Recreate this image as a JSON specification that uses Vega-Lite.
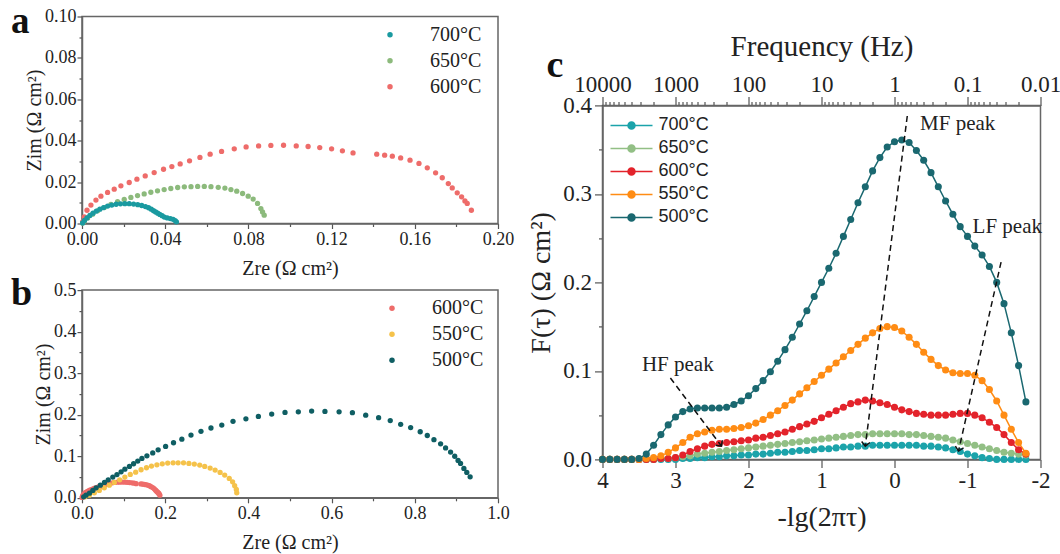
{
"$schema": "https://vega.github.io/schema/vega-lite/v6.json",
"background": "white",
"padding": {"left": 10, "top": 1.5, "right": 0, "bottom": 0},
"config": {
  "font": "Liberation Serif",
  "view": {"stroke": "#666", "strokeWidth": 1.5},
  "axis": {"grid": false, "domainColor": "#666", "domainWidth": 1.5, "tickColor": "#555", "tickWidth": 1.2, "labelColor": "#222", "titleColor": "#222", "labelFont": "Liberation Serif", "titleFont": "Liberation Serif", "titleFontWeight": "normal", "labelOverlap": false, "labelFlush": false, "labelBound": false},
  "legend": {"labelFont": "Liberation Serif", "labelColor": "#222"}
},
"datasets": {
  "nyq": [
    {"s":"650°C","zre":0.0876,"zim":0.0040},{"s":"650°C","zre":0.0868,"zim":0.0056},{"s":"650°C","zre":0.0860,"zim":0.0072},{"s":"650°C","zre":0.0844,"zim":0.0097},{"s":"650°C","zre":0.0823,"zim":0.0118},{"s":"650°C","zre":0.0799,"zim":0.0132},{"s":"650°C","zre":0.0772,"zim":0.0145},{"s":"650°C","zre":0.0744,"zim":0.0156},{"s":"650°C","zre":0.0716,"zim":0.0164},{"s":"650°C","zre":0.0687,"zim":0.0171},{"s":"650°C","zre":0.0655,"zim":0.0175},{"s":"650°C","zre":0.0620,"zim":0.0178},{"s":"650°C","zre":0.0588,"zim":0.0179},{"s":"650°C","zre":0.0556,"zim":0.0179},{"s":"650°C","zre":0.0524,"zim":0.0178},{"s":"650°C","zre":0.0492,"zim":0.0177},{"s":"650°C","zre":0.0460,"zim":0.0174},{"s":"650°C","zre":0.0427,"zim":0.0169},{"s":"650°C","zre":0.0395,"zim":0.0164},{"s":"650°C","zre":0.0363,"zim":0.0158},{"s":"650°C","zre":0.0331,"zim":0.0151},{"s":"650°C","zre":0.0299,"zim":0.0143},{"s":"650°C","zre":0.0267,"zim":0.0135},{"s":"650°C","zre":0.0235,"zim":0.0126},{"s":"650°C","zre":0.0203,"zim":0.0116},{"s":"650°C","zre":0.0171,"zim":0.0105},{"s":"650°C","zre":0.0139,"zim":0.0092},{"s":"650°C","zre":0.0107,"zim":0.0077},{"s":"650°C","zre":0.0075,"zim":0.0061},{"s":"650°C","zre":0.0051,"zim":0.0045},{"s":"650°C","zre":0.0027,"zim":0.0027},{"s":"650°C","zre":0.0011,"zim":0.0011},{"s":"650°C","zre":0.0003,"zim":0.0002},
    {"s":"600°C","zre":0.1872,"zim":0.0064},{"s":"600°C","zre":0.1852,"zim":0.0097},{"s":"600°C","zre":0.1841,"zim":0.0109},{"s":"600°C","zre":0.1825,"zim":0.0129},{"s":"600°C","zre":0.1804,"zim":0.0148},{"s":"600°C","zre":0.1780,"zim":0.0172},{"s":"600°C","zre":0.1761,"zim":0.0193},{"s":"600°C","zre":0.1732,"zim":0.0221},{"s":"600°C","zre":0.1700,"zim":0.0245},{"s":"600°C","zre":0.1660,"zim":0.0269},{"s":"600°C","zre":0.1620,"zim":0.0290},{"s":"600°C","zre":0.1577,"zim":0.0306},{"s":"600°C","zre":0.1532,"zim":0.0317},{"s":"600°C","zre":0.1492,"zim":0.0325},{"s":"600°C","zre":0.1455,"zim":0.0330},{"s":"600°C","zre":0.1417,"zim":0.0335},{"s":"600°C","zre":0.1303,"zim":0.0341},{"s":"600°C","zre":0.1252,"zim":0.0351},{"s":"600°C","zre":0.1200,"zim":0.0361},{"s":"600°C","zre":0.1143,"zim":0.0367},{"s":"600°C","zre":0.1087,"zim":0.0372},{"s":"600°C","zre":0.1030,"zim":0.0375},{"s":"600°C","zre":0.0969,"zim":0.0378},{"s":"600°C","zre":0.0908,"zim":0.0377},{"s":"600°C","zre":0.0849,"zim":0.0375},{"s":"600°C","zre":0.0789,"zim":0.0370},{"s":"600°C","zre":0.0732,"zim":0.0361},{"s":"600°C","zre":0.0671,"zim":0.0348},{"s":"600°C","zre":0.0616,"zim":0.0335},{"s":"600°C","zre":0.0567,"zim":0.0319},{"s":"600°C","zre":0.0517,"zim":0.0303},{"s":"600°C","zre":0.0472,"zim":0.0288},{"s":"600°C","zre":0.0432,"zim":0.0275},{"s":"600°C","zre":0.0392,"zim":0.0262},{"s":"600°C","zre":0.0347,"zim":0.0246},{"s":"600°C","zre":0.0304,"zim":0.0230},{"s":"600°C","zre":0.0264,"zim":0.0214},{"s":"600°C","zre":0.0227,"zim":0.0198},{"s":"600°C","zre":0.0187,"zim":0.0182},{"s":"600°C","zre":0.0155,"zim":0.0166},{"s":"600°C","zre":0.0123,"zim":0.0150},{"s":"600°C","zre":0.0091,"zim":0.0132},{"s":"600°C","zre":0.0067,"zim":0.0113},{"s":"600°C","zre":0.0043,"zim":0.0089},{"s":"600°C","zre":0.0024,"zim":0.0064},{"s":"600°C","zre":0.0011,"zim":0.0032},{"s":"600°C","zre":0.0003,"zim":0.0008},
    {"s":"700°C","zre":0.0003,"zim":0.0003},{"s":"700°C","zre":0.0012,"zim":0.0015},{"s":"700°C","zre":0.0024,"zim":0.0027},{"s":"700°C","zre":0.0038,"zim":0.0039},{"s":"700°C","zre":0.0053,"zim":0.0050},{"s":"700°C","zre":0.0069,"zim":0.0060},{"s":"700°C","zre":0.0086,"zim":0.0069},{"s":"700°C","zre":0.0104,"zim":0.0077},{"s":"700°C","zre":0.0123,"zim":0.0084},{"s":"700°C","zre":0.0143,"zim":0.0089},{"s":"700°C","zre":0.0164,"zim":0.0093},{"s":"700°C","zre":0.0185,"zim":0.0095},{"s":"700°C","zre":0.0206,"zim":0.0096},{"s":"700°C","zre":0.0227,"zim":0.0096},{"s":"700°C","zre":0.0248,"zim":0.0094},{"s":"700°C","zre":0.0268,"zim":0.0091},{"s":"700°C","zre":0.0287,"zim":0.0087},{"s":"700°C","zre":0.0305,"zim":0.0082},{"s":"700°C","zre":0.0320,"zim":0.0076},{"s":"700°C","zre":0.0333,"zim":0.0069},{"s":"700°C","zre":0.0344,"zim":0.0062},{"s":"700°C","zre":0.0354,"zim":0.0056},{"s":"700°C","zre":0.0364,"zim":0.0050},{"s":"700°C","zre":0.0374,"zim":0.0044},{"s":"700°C","zre":0.0385,"zim":0.0038},{"s":"700°C","zre":0.0396,"zim":0.0031},{"s":"700°C","zre":0.0410,"zim":0.0027},{"s":"700°C","zre":0.0425,"zim":0.0024},{"s":"700°C","zre":0.0438,"zim":0.0020},{"s":"700°C","zre":0.0448,"zim":0.0014},{"s":"700°C","zre":0.0454,"zim":0.0008},
    {"s":"550°C","zre":0.0072,"zim":0.0024},{"s":"550°C","zre":0.0176,"zim":0.0064},{"s":"550°C","zre":0.0296,"zim":0.0120},{"s":"550°C","zre":0.0416,"zim":0.0177},{"s":"550°C","zre":0.0536,"zim":0.0240},{"s":"550°C","zre":0.0657,"zim":0.0305},{"s":"550°C","zre":0.0777,"zim":0.0370},{"s":"550°C","zre":0.0905,"zim":0.0434},{"s":"550°C","zre":0.1030,"zim":0.0498},{"s":"550°C","zre":0.1160,"zim":0.0562},{"s":"550°C","zre":0.1290,"zim":0.0618},{"s":"550°C","zre":0.1420,"zim":0.0675},{"s":"550°C","zre":0.1550,"zim":0.0723},{"s":"550°C","zre":0.1670,"zim":0.0763},{"s":"550°C","zre":0.1800,"zim":0.0795},{"s":"550°C","zre":0.1930,"zim":0.0819},{"s":"550°C","zre":0.2060,"zim":0.0835},{"s":"550°C","zre":0.2190,"zim":0.0843},{"s":"550°C","zre":0.2310,"zim":0.0843},{"s":"550°C","zre":0.2440,"zim":0.0843},{"s":"550°C","zre":0.2570,"zim":0.0827},{"s":"550°C","zre":0.2700,"zim":0.0811},{"s":"550°C","zre":0.2830,"zim":0.0787},{"s":"550°C","zre":0.2950,"zim":0.0755},{"s":"550°C","zre":0.3080,"zim":0.0715},{"s":"550°C","zre":0.3200,"zim":0.0667},{"s":"550°C","zre":0.3320,"zim":0.0610},{"s":"550°C","zre":0.3430,"zim":0.0546},{"s":"550°C","zre":0.3540,"zim":0.0466},{"s":"550°C","zre":0.3620,"zim":0.0385},{"s":"550°C","zre":0.3670,"zim":0.0290},{"s":"550°C","zre":0.3710,"zim":0.0200},{"s":"550°C","zre":0.3720,"zim":0.0120},
    {"s":"500°C","zre":0.0040,"zim":0.0024},{"s":"500°C","zre":0.0096,"zim":0.0064},{"s":"500°C","zre":0.0180,"zim":0.0112},{"s":"500°C","zre":0.0260,"zim":0.0177},{"s":"500°C","zre":0.0340,"zim":0.0240},{"s":"500°C","zre":0.0440,"zim":0.0305},{"s":"500°C","zre":0.0540,"zim":0.0370},{"s":"500°C","zre":0.0630,"zim":0.0434},{"s":"500°C","zre":0.0740,"zim":0.0498},{"s":"500°C","zre":0.0840,"zim":0.0560},{"s":"500°C","zre":0.0940,"zim":0.0626},{"s":"500°C","zre":0.1030,"zim":0.0690},{"s":"500°C","zre":0.1140,"zim":0.0755},{"s":"500°C","zre":0.1240,"zim":0.0820},{"s":"500°C","zre":0.1340,"zim":0.0883},{"s":"500°C","zre":0.1440,"zim":0.0948},{"s":"500°C","zre":0.1560,"zim":0.1010},{"s":"500°C","zre":0.1700,"zim":0.1080},{"s":"500°C","zre":0.1830,"zim":0.1156},{"s":"500°C","zre":0.2010,"zim":0.1237},{"s":"500°C","zre":0.2200,"zim":0.1325},{"s":"500°C","zre":0.2400,"zim":0.1410},{"s":"500°C","zre":0.2620,"zim":0.1510},{"s":"500°C","zre":0.2860,"zim":0.1600},{"s":"500°C","zre":0.3100,"zim":0.1680},{"s":"500°C","zre":0.3360,"zim":0.1750},{"s":"500°C","zre":0.3630,"zim":0.1840},{"s":"500°C","zre":0.3940,"zim":0.1900},{"s":"500°C","zre":0.4240,"zim":0.1960},{"s":"500°C","zre":0.4560,"zim":0.2016},{"s":"500°C","zre":0.4880,"zim":0.2056},{"s":"500°C","zre":0.5200,"zim":0.2070},{"s":"500°C","zre":0.5520,"zim":0.2088},{"s":"500°C","zre":0.5840,"zim":0.2080},{"s":"500°C","zre":0.6180,"zim":0.2070},{"s":"500°C","zre":0.6500,"zim":0.2048},{"s":"500°C","zre":0.6820,"zim":0.1990},{"s":"500°C","zre":0.7130,"zim":0.1930},{"s":"500°C","zre":0.7410,"zim":0.1860},{"s":"500°C","zre":0.7660,"zim":0.1770},{"s":"500°C","zre":0.7900,"zim":0.1690},{"s":"500°C","zre":0.8130,"zim":0.1590},{"s":"500°C","zre":0.8300,"zim":0.1500},{"s":"500°C","zre":0.8460,"zim":0.1400},{"s":"500°C","zre":0.8620,"zim":0.1300},{"s":"500°C","zre":0.8740,"zim":0.1200},{"s":"500°C","zre":0.8860,"zim":0.1100},{"s":"500°C","zre":0.8960,"zim":0.1000},{"s":"500°C","zre":0.9040,"zim":0.0900},{"s":"500°C","zre":0.9100,"zim":0.0827},{"s":"500°C","zre":0.9180,"zim":0.0707},{"s":"500°C","zre":0.9250,"zim":0.0610},{"s":"500°C","zre":0.9330,"zim":0.0506}
  ],
  "drt": [
    {"x":4.0,"700°C":0,"650°C":0,"600°C":0,"550°C":0,"500°C":0},
    {"x":3.9,"700°C":0,"650°C":0,"600°C":0,"550°C":0,"500°C":0},
    {"x":3.8,"700°C":0,"650°C":0,"600°C":0,"550°C":0,"500°C":0},
    {"x":3.7,"700°C":0,"650°C":0,"600°C":0,"550°C":0,"500°C":0},
    {"x":3.6,"700°C":0,"650°C":0,"600°C":0,"550°C":0,"500°C":0},
    {"x":3.5,"700°C":0,"650°C":0,"600°C":0,"550°C":0,"500°C":0.001},
    {"x":3.4,"700°C":0,"650°C":0,"600°C":0,"550°C":0.001,"500°C":0.006},
    {"x":3.3,"700°C":0,"650°C":0,"600°C":0,"550°C":0.002,"500°C":0.016},
    {"x":3.2,"700°C":0,"650°C":0.001,"600°C":0.001,"550°C":0.004,"500°C":0.028},
    {"x":3.1,"700°C":0,"650°C":0.001,"600°C":0.001,"550°C":0.008,"500°C":0.039},
    {"x":3.0,"700°C":0,"650°C":0.002,"600°C":0.002,"550°C":0.013,"500°C":0.048},
    {"x":2.9,"700°C":0.001,"650°C":0.003,"600°C":0.005,"550°C":0.019,"500°C":0.054},
    {"x":2.8,"700°C":0.001,"650°C":0.004,"600°C":0.009,"550°C":0.025,"500°C":0.057},
    {"x":2.7,"700°C":0.002,"650°C":0.006,"600°C":0.012,"550°C":0.029,"500°C":0.058},
    {"x":2.6,"700°C":0.002,"650°C":0.007,"600°C":0.015,"550°C":0.031,"500°C":0.058},
    {"x":2.5,"700°C":0.003,"650°C":0.008,"600°C":0.017,"550°C":0.033,"500°C":0.058},
    {"x":2.4,"700°C":0.003,"650°C":0.009,"600°C":0.018,"550°C":0.034,"500°C":0.058},
    {"x":2.3,"700°C":0.004,"650°C":0.010,"600°C":0.019,"550°C":0.034,"500°C":0.059},
    {"x":2.2,"700°C":0.004,"650°C":0.011,"600°C":0.020,"550°C":0.035,"500°C":0.062},
    {"x":2.1,"700°C":0.005,"650°C":0.012,"600°C":0.021,"550°C":0.036,"500°C":0.066},
    {"x":2.0,"700°C":0.005,"650°C":0.013,"600°C":0.022,"550°C":0.038,"500°C":0.072},
    {"x":1.9,"700°C":0.006,"650°C":0.014,"600°C":0.024,"550°C":0.041,"500°C":0.080},
    {"x":1.8,"700°C":0.006,"650°C":0.015,"600°C":0.025,"550°C":0.045,"500°C":0.089},
    {"x":1.7,"700°C":0.007,"650°C":0.016,"600°C":0.027,"550°C":0.050,"500°C":0.099},
    {"x":1.6,"700°C":0.008,"650°C":0.017,"600°C":0.029,"550°C":0.055,"500°C":0.111},
    {"x":1.5,"700°C":0.008,"650°C":0.018,"600°C":0.031,"550°C":0.061,"500°C":0.124},
    {"x":1.4,"700°C":0.009,"650°C":0.019,"600°C":0.034,"550°C":0.067,"500°C":0.138},
    {"x":1.3,"700°C":0.010,"650°C":0.020,"600°C":0.037,"550°C":0.074,"500°C":0.153},
    {"x":1.2,"700°C":0.010,"650°C":0.021,"600°C":0.040,"550°C":0.081,"500°C":0.168},
    {"x":1.1,"700°C":0.011,"650°C":0.022,"600°C":0.043,"550°C":0.088,"500°C":0.184},
    {"x":1.0,"700°C":0.012,"650°C":0.023,"600°C":0.047,"550°C":0.095,"500°C":0.200},
    {"x":0.9,"700°C":0.012,"650°C":0.024,"600°C":0.051,"550°C":0.102,"500°C":0.216},
    {"x":0.8,"700°C":0.013,"650°C":0.025,"600°C":0.055,"550°C":0.109,"500°C":0.233},
    {"x":0.7,"700°C":0.014,"650°C":0.026,"600°C":0.059,"550°C":0.116,"500°C":0.252},
    {"x":0.6,"700°C":0.014,"650°C":0.027,"600°C":0.063,"550°C":0.123,"500°C":0.271},
    {"x":0.5,"700°C":0.015,"650°C":0.028,"600°C":0.065,"550°C":0.130,"500°C":0.290},
    {"x":0.4,"700°C":0.015,"650°C":0.028,"600°C":0.067,"550°C":0.137,"500°C":0.308},
    {"x":0.3,"700°C":0.016,"650°C":0.029,"600°C":0.066,"550°C":0.143,"500°C":0.326},
    {"x":0.2,"700°C":0.016,"650°C":0.029,"600°C":0.064,"550°C":0.148,"500°C":0.341},
    {"x":0.1,"700°C":0.016,"650°C":0.029,"600°C":0.062,"550°C":0.150,"500°C":0.353},
    {"x":0.0,"700°C":0.016,"650°C":0.029,"600°C":0.059,"550°C":0.149,"500°C":0.359},
    {"x":-0.1,"700°C":0.016,"650°C":0.029,"600°C":0.056,"550°C":0.145,"500°C":0.361},
    {"x":-0.2,"700°C":0.016,"650°C":0.028,"600°C":0.054,"550°C":0.138,"500°C":0.358},
    {"x":-0.3,"700°C":0.016,"650°C":0.028,"600°C":0.052,"550°C":0.130,"500°C":0.349},
    {"x":-0.4,"700°C":0.015,"650°C":0.027,"600°C":0.051,"550°C":0.121,"500°C":0.338},
    {"x":-0.5,"700°C":0.015,"650°C":0.026,"600°C":0.050,"550°C":0.113,"500°C":0.324},
    {"x":-0.6,"700°C":0.014,"650°C":0.025,"600°C":0.050,"550°C":0.106,"500°C":0.308},
    {"x":-0.7,"700°C":0.013,"650°C":0.024,"600°C":0.050,"550°C":0.101,"500°C":0.292},
    {"x":-0.8,"700°C":0.011,"650°C":0.022,"600°C":0.051,"550°C":0.098,"500°C":0.277},
    {"x":-0.9,"700°C":0.009,"650°C":0.020,"600°C":0.052,"550°C":0.097,"500°C":0.263},
    {"x":-1.0,"700°C":0.006,"650°C":0.018,"600°C":0.052,"550°C":0.097,"500°C":0.252},
    {"x":-1.1,"700°C":0.004,"650°C":0.016,"600°C":0.050,"550°C":0.095,"500°C":0.241},
    {"x":-1.2,"700°C":0.002,"650°C":0.014,"600°C":0.047,"550°C":0.089,"500°C":0.231},
    {"x":-1.3,"700°C":0.001,"650°C":0.012,"600°C":0.042,"550°C":0.079,"500°C":0.218},
    {"x":-1.4,"700°C":0,"650°C":0.010,"600°C":0.036,"550°C":0.066,"500°C":0.200},
    {"x":-1.5,"700°C":0,"650°C":0.008,"600°C":0.028,"550°C":0.050,"500°C":0.176},
    {"x":-1.6,"700°C":0,"650°C":0.007,"600°C":0.019,"550°C":0.034,"500°C":0.143},
    {"x":-1.7,"700°C":0,"650°C":0.006,"600°C":0.011,"550°C":0.019,"500°C":0.106},
    {"x":-1.8,"700°C":0,"650°C":0.005,"600°C":0.006,"550°C":0.007,"500°C":0.065}
  ],
  "ann": [
    {"label":"HF peak","x1":3.07,"y1":0.092,"x2":2.37,"y2":0.015,"tx":3.46,"ty":0.107},
    {"label":"MF peak","x1":-0.175,"y1":0.388,"x2":0.40,"y2":0.015,"tx":-0.35,"ty":0.379},
    {"label":"LF peak","x1":-1.46,"y1":0.223,"x2":-0.877,"y2":0.0094,"tx":-1.07,"ty":0.263}
  ]
},
"spacing": 11.5,
"resolve": {"scale": {"color": "independent"}, "legend": {"color": "independent"}},
"hconcat": [
  {
    "spacing": -6.4,
    "resolve": {"scale": {"color": "independent"}, "legend": {"color": "independent"}},
    "vconcat": [
      {
        "width": 416, "height": 207,
        "title": {"text": "a", "anchor": "start", "frame": "group", "fontSize": 37, "fontWeight": "bold", "font": "Liberation Serif", "color": "#111", "baseline": "alphabetic", "offset": -38, "dx": -71, "dy": 24.3},
        "data": {"name": "nyq"},
        "transform": [{"filter": {"field": "s", "oneOf": ["650°C", "600°C", "700°C"]}}],
        "mark": {"type": "point", "filled": true, "opacity": 1, "size": 28},
        "encoding": {
          "x": {"field": "zre", "type": "quantitative", "scale": {"domain": [0, 0.2], "nice": false, "zero": false},
            "axis": {"title": "Zre (Ω cm²)", "values": [0, 0.02, 0.04, 0.06, 0.08, 0.1, 0.12, 0.14, 0.16, 0.18, 0.2], "labelExpr": "round(datum.value*100) % 4 == 0 ? format(datum.value, '.2f') : ''", "tickSize": {"condition": {"test": "round(datum.value*100) % 4 != 0", "value": 3}, "value": 5}, "labelFontSize": 18, "titleFontSize": 20, "labelPadding": 2, "titlePadding": 10}},
          "y": {"field": "zim", "type": "quantitative", "scale": {"domain": [0, 0.1], "nice": false, "zero": false},
            "axis": {"title": "Zim (Ω cm²)", "values": [0, 0.01, 0.02, 0.03, 0.04, 0.05, 0.06, 0.07, 0.08, 0.09, 0.1], "labelExpr": "round(datum.value*100) % 2 == 0 ? format(datum.value, '.2f') : ''", "tickSize": {"condition": {"test": "round(datum.value*100) % 2 != 0", "value": 3}, "value": 5}, "labelFontSize": 18, "titleFontSize": 20, "labelPadding": 1, "titlePadding": 0}},
          "color": {"field": "s", "type": "nominal", "scale": {"domain": ["700°C", "650°C", "600°C"], "range": ["#1a9aa0", "#8cba7c", "#ee6c6a"]},
            "legend": {"orient": "none", "legendX": 298, "legendY": 5.5, "title": null, "symbolType": "circle", "symbolSize": 30, "clipHeight": 25.5, "rowPadding": 0, "padding": 0, "labelFontSize": 20, "labelOffset": 30}}
        }
      },
      {
        "width": 416, "height": 207.7,
        "title": {"text": "b", "anchor": "start", "frame": "group", "fontSize": 38, "fontWeight": "bold", "font": "Liberation Serif", "color": "#111", "baseline": "alphabetic", "offset": -36, "dx": -71, "dy": 25.7},
        "data": {"name": "nyq"},
        "transform": [{"filter": {"field": "s", "oneOf": ["600°C", "550°C", "500°C"]}}],
        "mark": {"type": "point", "filled": true, "opacity": 1, "size": 28},
        "encoding": {
          "x": {"field": "zre", "type": "quantitative", "scale": {"domain": [0, 1], "nice": false, "zero": false},
            "axis": {"title": "Zre (Ω cm²)", "values": [0, 0.1, 0.2, 0.3, 0.4, 0.5, 0.6, 0.7, 0.8, 0.9, 1], "labelExpr": "round(datum.value*10) % 2 == 0 ? format(datum.value, '.1f') : ''", "tickSize": {"condition": {"test": "round(datum.value*10) % 2 != 0", "value": 3}, "value": 5}, "labelFontSize": 18, "titleFontSize": 20, "labelPadding": 2, "titlePadding": 10}},
          "y": {"field": "zim", "type": "quantitative", "scale": {"domain": [0, 0.5], "nice": false, "zero": false},
            "axis": {"title": "Zim (Ω cm²)", "values": [0, 0.05, 0.1, 0.15, 0.2, 0.25, 0.3, 0.35, 0.4, 0.45, 0.5], "labelExpr": "round(datum.value*100) % 10 == 0 ? format(datum.value, '.1f') : ''", "tickSize": {"condition": {"test": "round(datum.value*100) % 10 != 0", "value": 3}, "value": 5}, "labelFontSize": 18, "titleFontSize": 20, "labelPadding": 1, "titlePadding": 0}},
          "color": {"field": "s", "type": "nominal", "scale": {"domain": ["600°C", "550°C", "500°C"], "range": ["#ee6c6a", "#f5c24a", "#0f5e63"]},
            "legend": {"orient": "none", "legendX": 300, "legendY": 5.5, "title": null, "symbolType": "circle", "symbolSize": 30, "clipHeight": 25.3, "rowPadding": 0, "padding": 0, "labelFontSize": 20, "labelOffset": 30}}
        }
      }
    ]
  },
  {
    "spacing": 10.9,
    "resolve": {"scale": {"color": "independent"}, "legend": {"color": "independent"}},
    "vconcat": [
      {"width": 1, "height": 1, "view": {"stroke": null}, "data": {"values": [{"k": 0}]}, "mark": {"type": "point", "opacity": 0}},
      {
        "width": 438, "height": 354,
        "title": {"text": "c", "anchor": "start", "frame": "group", "fontSize": 38, "fontWeight": "bold", "font": "Liberation Serif", "color": "#111", "baseline": "alphabetic", "offset": -37, "dx": -56, "dy": 45.2},
        "resolve": {"scale": {"x": "independent"}, "axis": {"x": "independent"}},
        "layer": [
          {
            "data": {"values": [{"f": 10000}, {"f": 0.01}]},
            "mark": {"type": "point", "opacity": 0},
            "encoding": {
              "x": {"field": "f", "type": "quantitative", "scale": {"type": "log", "domain": [0.01, 10000], "reverse": true, "nice": false},
                "axis": {"orient": "top", "title": "Frequency (Hz)", "values": [10000,9000,8000,7000,6000,5000,4000,3000,2000,1000,900,800,700,600,500,400,300,200,100,90,80,70,60,50,40,30,20,10,9,8,7,6,5,4,3,2,1,0.9,0.8,0.7,0.6,0.5,0.4,0.3,0.2,0.1,0.09,0.08,0.07,0.06,0.05,0.04,0.03,0.02,0.01],
                  "labelExpr": "abs(log(datum.value)/LN10 - round(log(datum.value)/LN10)) < 0.001 ? format(datum.value, '~g') : ''",
                  "tickSize": {"condition": {"test": "abs(log(datum.value)/LN10 - round(log(datum.value)/LN10)) >= 0.001", "value": 4}, "value": 9},
                  "labelFontSize": 23, "titleFontSize": 29, "labelPadding": 0, "titlePadding": 12}}
            }
          },
          {
            "layer": [
              {
                "data": {"name": "drt"},
                "transform": [{"fold": ["700°C", "650°C", "600°C", "550°C", "500°C"], "as": ["s", "f"]}],
                "mark": {"type": "line", "strokeWidth": 1.5},
                "encoding": {
                  "x": {"field": "x", "type": "quantitative", "scale": {"domain": [-2, 4], "reverse": true, "nice": false, "zero": false},
                    "axis": {"orient": "bottom", "title": "-lg(2πτ)", "values": [4, 3.5, 3, 2.5, 2, 1.5, 1, 0.5, 0, -0.5, -1, -1.5, -2], "labelExpr": "datum.value % 1 == 0 ? '' + datum.value : ''", "tickSize": {"condition": {"test": "datum.value % 1 != 0", "value": 4}, "value": 8}, "labelFontSize": 23, "titleFontSize": 28, "labelPadding": 2.5, "titlePadding": 11}},
                  "y": {"field": "f", "type": "quantitative", "scale": {"domain": [0, 0.4], "nice": false, "zero": false},
                    "axis": {"title": "F(τ) (Ω cm²)", "values": [0, 0.05, 0.1, 0.15, 0.2, 0.25, 0.3, 0.35, 0.4], "labelExpr": "round(datum.value*100) % 10 == 0 ? format(datum.value, '.1f') : ''", "tickSize": {"condition": {"test": "round(datum.value*100) % 10 != 0", "value": 4}, "value": 8}, "labelFontSize": 23, "titleFontSize": 28, "labelPadding": 3, "titlePadding": 7}},
                  "color": {"field": "s", "type": "nominal", "scale": {"domain": ["700°C", "650°C", "600°C", "550°C", "500°C"], "range": ["#1ba3aa", "#92bf85", "#e3232b", "#ff8c14", "#1a6870"]},
                    "legend": {"orient": "none", "legendX": 7, "legendY": 8.7, "title": null,
                      "symbolType": "M-1,0H1M0.1667,0A0.1667,0.1667,0,1,1,-0.1667,0A0.1667,0.1667,0,1,1,0.1667,0M0.119,0A0.119,0.119,0,1,1,-0.119,0A0.119,0.119,0,1,1,0.119,0M0.0714,0A0.0714,0.0714,0,1,1,-0.0714,0A0.0714,0.0714,0,1,1,0.0714,0M0.03,0A0.03,0.03,0,1,1,-0.03,0A0.03,0.03,0,1,1,0.03,0",
                      "symbolSize": 1764, "symbolStrokeWidth": 1.5, "clipHeight": 22.6, "rowPadding": 0, "padding": 0, "labelFont": "Liberation Sans", "labelFontSize": 18, "labelOffset": 5}}
                }
              },
              {
                "data": {"name": "drt"},
                "transform": [{"fold": ["700°C", "650°C", "600°C", "550°C", "500°C"], "as": ["s", "f"]}],
                "mark": {"type": "point", "filled": true, "opacity": 1, "size": 50},
                "encoding": {
                  "x": {"field": "x", "type": "quantitative", "scale": {"domain": [-2, 4], "reverse": true, "nice": false, "zero": false}},
                  "y": {"field": "f", "type": "quantitative", "scale": {"domain": [0, 0.4], "nice": false, "zero": false}},
                  "color": {"field": "s", "type": "nominal", "scale": {"domain": ["700°C", "650°C", "600°C", "550°C", "500°C"], "range": ["#1ba3aa", "#92bf85", "#e3232b", "#ff8c14", "#1a6870"]}, "legend": null}
                }
              },
              {
                "data": {"name": "ann"},
                "mark": {"type": "rule", "color": "#111", "strokeWidth": 1.5, "strokeDash": [6, 4]},
                "encoding": {
                  "x": {"field": "x1", "type": "quantitative", "scale": {"domain": [-2, 4], "reverse": true, "nice": false, "zero": false}},
                  "x2": {"field": "x2"},
                  "y": {"field": "y1", "type": "quantitative", "scale": {"domain": [0, 0.4], "nice": false, "zero": false}},
                  "y2": {"field": "y2"}
                }
              },
              {
                "data": {"name": "ann"},
                "transform": [{"filter": "datum.label == 'HF peak'"}],
                "mark": {"type": "point", "shape": "M-1,-1L0,0L1,-1", "filled": false, "color": "#111", "strokeWidth": 1.5, "size": 70, "angle": -37, "opacity": 1},
                "encoding": {
                  "x": {"field": "x2", "type": "quantitative", "scale": {"domain": [-2, 4], "reverse": true, "nice": false, "zero": false}},
                  "y": {"field": "y2", "type": "quantitative", "scale": {"domain": [0, 0.4], "nice": false, "zero": false}}
                }
              },
              {
                "data": {"name": "ann"},
                "transform": [{"filter": "datum.label == 'MF peak'"}],
                "mark": {"type": "point", "shape": "M-1,-1L0,0L1,-1", "filled": false, "color": "#111", "strokeWidth": 1.5, "size": 70, "angle": 7, "opacity": 1},
                "encoding": {
                  "x": {"field": "x2", "type": "quantitative", "scale": {"domain": [-2, 4], "reverse": true, "nice": false, "zero": false}},
                  "y": {"field": "y2", "type": "quantitative", "scale": {"domain": [0, 0.4], "nice": false, "zero": false}}
                }
              },
              {
                "data": {"name": "ann"},
                "transform": [{"filter": "datum.label == 'LF peak'"}],
                "mark": {"type": "point", "shape": "M-1,-1L0,0L1,-1", "filled": false, "color": "#111", "strokeWidth": 1.5, "size": 70, "angle": 13, "opacity": 1},
                "encoding": {
                  "x": {"field": "x2", "type": "quantitative", "scale": {"domain": [-2, 4], "reverse": true, "nice": false, "zero": false}},
                  "y": {"field": "y2", "type": "quantitative", "scale": {"domain": [0, 0.4], "nice": false, "zero": false}}
                }
              },
              {
                "data": {"name": "ann"},
                "mark": {"type": "text", "align": "left", "baseline": "middle", "font": "Liberation Serif", "fontSize": 21, "color": "#222"},
                "encoding": {
                  "x": {"field": "tx", "type": "quantitative", "scale": {"domain": [-2, 4], "reverse": true, "nice": false, "zero": false}},
                  "y": {"field": "ty", "type": "quantitative", "scale": {"domain": [0, 0.4], "nice": false, "zero": false}},
                  "text": {"field": "label"}
                }
              }
            ]
          }
        ]
      }
    ]
  }
]
}
